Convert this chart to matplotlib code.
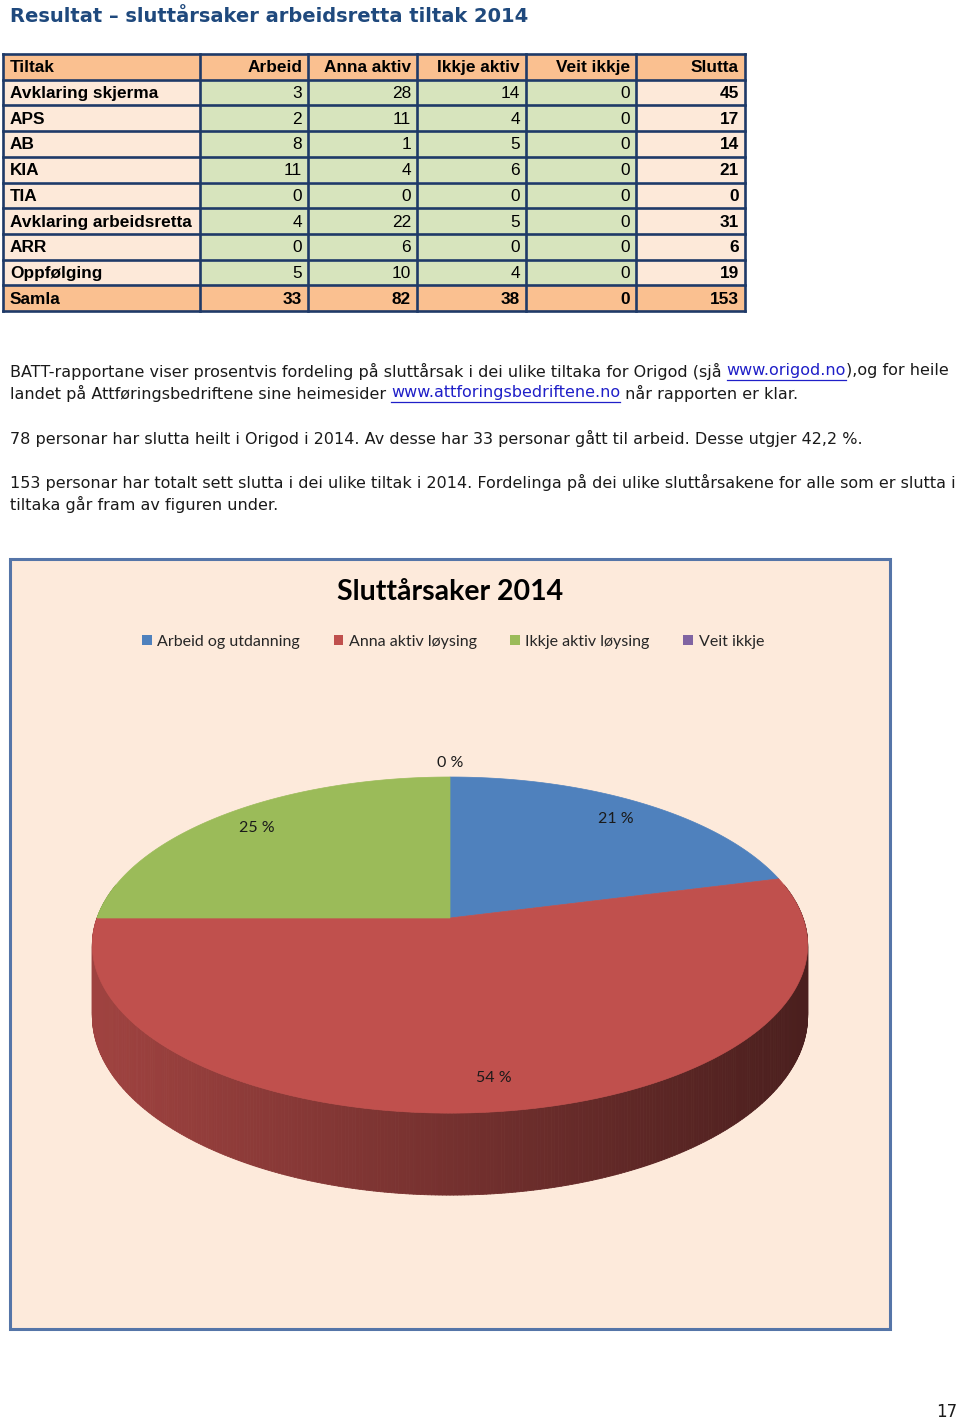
import numpy as np
import matplotlib as mpl
mpl.use('Agg')
import matplotlib.pyplot as plt
from matplotlib.patches import Rectangle, Polygon, Patch
from matplotlib.collections import PolyCollection

# ---- data ----
col_heads = ['Tiltak', 'Arbeid', 'Anna aktiv', 'Ikkje aktiv', 'Veit ikkje', 'Slutta']
tiltak = ['Avklaring skjerma', 'APS', 'AB', 'KIA', 'TIA',
          'Avklaring arbeidsretta', 'ARR', 'Oppfølging']
arbeid = [3, 2, 8, 11, 0, 4, 0, 5]
anna_aktiv = [28, 11, 1, 4, 0, 22, 6, 10]
ikkje_aktiv = [14, 4, 5, 6, 0, 5, 0, 4]
veit_ikkje = [0, 0, 0, 0, 0, 0, 0, 0]
slutta = [45, 17, 14, 21, 0, 31, 6, 19]
samla = [33, 82, 38, 0, 153]

pie_names = ['Arbeid og utdanning', 'Anna aktiv løysing', 'Ikkje aktiv løysing', 'Veit ikkje']
pie_pct = [21, 54, 25, 0]
pie_colors = ['#4F81BD', '#C0504D', '#9BBB59', '#8064A2']

W, H = 960, 1422
fig = plt.figure(figsize=(W / 100, H / 100), dpi=100)
ax = fig.add_axes([0, 0, 1, 1])
ax.set_xlim(0, W)
ax.set_ylim(H, 0)
ax.axis('off')
renderer = fig.canvas.get_renderer()

body_font = 'DejaVu Sans'
table_font = 'Liberation Sans'
ink = '#1a1a1a'
link_col = '#1f1fc8'


def text_width(s, **kw):
    t = ax.text(0, 0, '|' + s + '|', **kw)
    t2 = ax.text(0, 0, '||', **kw)
    w = t.get_window_extent(renderer).width - t2.get_window_extent(renderer).width
    t.remove()
    t2.remove()
    return w


line1 = [('BATT-rapportane viser prosentvis fordeling på sluttårsak i dei ulike tiltaka for Origod (sjå ', False),
         ('www.origod.no', True), ('),og for heile', False)]
# body size chosen so the first line spans the text column like the page does
w10 = text_width(''.join(s for s, _ in line1), fontsize=10, family=body_font)
body_size = 10 * 938 / w10


def draw_runs(x, y, parts, size=body_size):
    kw = dict(fontsize=size, family=body_font)
    for s, is_link in parts:
        col = link_col if is_link else ink
        ax.text(x, y, s, color=col, va='center', ha='left', **kw)
        w = text_width(s, **kw)
        if is_link:
            ax.plot([x, x + w], [y + 9, y + 9], color=col, lw=0.9)
        x += w


# ---- heading ----
ax.text(10, 17, 'Resultat \u2013 sluttårsaker arbeidsretta tiltak 2014',
        fontsize=14, fontweight='bold', family='DejaVu Sans',
        color='#1f497d', va='center', ha='left')

# ---- table ----
col_x = [3, 200, 308, 417, 526, 636, 745]
top, row_h = 54, (311 - 54) / 10
peach, orange, green = '#FDE9D9', '#FAC090', '#D7E4BD'
border = '#1f3a68'

rows = [col_heads]
for i, name in enumerate(tiltak):
    rows.append([name, arbeid[i], anna_aktiv[i], ikkje_aktiv[i], veit_ikkje[i], slutta[i]])
rows.append(['Samla'] + samla)

for r, row in enumerate(rows):
    y0 = top + r * row_h
    edge_row = r == 0 or r == len(rows) - 1
    for c, val in enumerate(row):
        if edge_row:
            fc = orange
        elif c == 0 or c == len(row) - 1:
            fc = peach
        else:
            fc = green
        ax.add_patch(Rectangle((col_x[c], y0), col_x[c + 1] - col_x[c], row_h,
                               facecolor=fc, edgecolor='none', zorder=1))
        bold = edge_row or c == 0 or c == len(row) - 1
        if c == 0:
            ax.text(col_x[c] + 7, y0 + row_h / 2 + 1, str(val), ha='left', va='center',
                    fontsize=12.4, family=table_font,
                    fontweight='bold', color='black', zorder=3)
        else:
            ax.text(col_x[c + 1] - 6, y0 + row_h / 2 + 1, str(val), ha='right', va='center',
                    fontsize=12.4, family=table_font,
                    fontweight='bold' if bold else 'normal', color='black', zorder=3)

for r in range(len(rows) + 1):
    yy = top + r * row_h
    ax.plot([col_x[0], col_x[-1]], [yy, yy], color=border, lw=1.9, zorder=2,
            solid_capstyle='projecting')
for xx in col_x:
    ax.plot([xx, xx], [top, top + len(rows) * row_h], color=border, lw=1.9, zorder=2,
            solid_capstyle='projecting')

# ---- paragraphs ----
draw_runs(10, 371, line1)
draw_runs(10, 393, [('landet på Attføringsbedriftene sine heimesider ', False),
                    ('www.attforingsbedriftene.no', True), (' når rapporten er klar.', False)])
draw_runs(10, 438, [('78 personar har slutta heilt i Origod i 2014. Av desse har 33 personar gått til arbeid. Desse utgjer 42,2 %.', False)])
draw_runs(10, 482, [('153 personar har totalt sett slutta i dei ulike tiltak i 2014. Fordelinga på dei ulike sluttårsakene for alle som er slutta i', False)])
draw_runs(10, 504, [('tiltaka går fram av figuren under.', False)])

# ---- chart box ----
ax.add_patch(Rectangle((10, 559), 880, 770, facecolor='#FDEADB',
                       edgecolor='#5575a8', lw=2.2, zorder=1))
ax.text(450, 592, 'Sluttårsaker 2014', fontsize=20.5, fontweight='bold',
        family='Lato', color='black', ha='center', va='center', zorder=3)

handles = [Patch(facecolor=c, edgecolor='none') for c in pie_colors]
fig.legend(handles, pie_names, loc='center', bbox_to_anchor=(453 / W, 1 - 642 / H),
           ncol=4, frameon=False, prop={'family': 'Lato', 'size': 11.5},
           handlelength=0.6, handleheight=0.6, handletextpad=0.35,
           columnspacing=2.1, labelcolor='#262626')

# ---- 3D pie (perspective view of a tilted disc) ----
cx, apex_y = 450, 918      # where the slices meet
A, B, k = 353, 163.7, 0.161
depth = 68.8
fracs = np.array(pie_pct, dtype=float) / sum(pie_pct)
starts = 90 - 360 * np.concatenate([[0], np.cumsum(fracs)[:-1]])
ends = starts - 360 * fracs


def proj(t, r=1.0, drop=0.0):
    t = np.radians(t)
    u, v = r * np.cos(t), r * np.sin(t)
    den = 1 + k * v
    return cx + A * u / den, apex_y - B * v / den + drop / den


def slice_at(t):
    for i in range(len(fracs)):
        if fracs[i] == 0:
            continue
        a = (starts[i] - t) % 360
        if a < 360 * fracs[i]:
            return i
    return 0


def shade(hexcol, f):
    rgb = np.array(mpl.colors.to_rgb(hexcol))
    return tuple(rgb * f)


# side wall
quads, qcols = [], []
step = 0.5
for t in np.arange(168, 372, step):
    x1, y1 = proj(t)
    x2, y2 = proj(t + step)
    _, b1 = proj(t, drop=depth)
    _, b2 = proj(t + step, drop=depth)
    quads.append([(x1, y1), (x2, y2), (x2, b2), (x1, b1)])
    xm = (x1 + x2) / 2
    u = np.clip((xm - (cx - A)) / (2 * A), 0, 1)
    qcols.append(shade(pie_colors[slice_at(t + step / 2)], 0.83 - 0.44 * u))
ax.add_collection(PolyCollection(quads, facecolors=qcols, edgecolors=qcols,
                                 linewidths=0.6, zorder=4))

# top face
for i in range(len(fracs)):
    if fracs[i] == 0:
        continue
    ts = np.linspace(starts[i], ends[i], 200)
    xs, ys = proj(ts)
    pts = np.column_stack([np.r_[cx, xs], np.r_[apex_y, ys]])
    ax.add_patch(Polygon(pts, closed=True, facecolor=pie_colors[i],
                         edgecolor=pie_colors[i], lw=0.5, zorder=5))

# percentage labels
for i in range(len(fracs)):
    mid = (starts[i] + ends[i]) / 2
    r = 1.12 if fracs[i] == 0 else 0.85
    lx, ly = proj(mid, r=r)
    ax.text(lx, ly, f'{pie_pct[i]} %', fontsize=11.5, family='Lato', color='#1a1a1a',
            ha='center', va='center', zorder=6)

# ---- page number ----
ax.text(947, 1412, '17', fontsize=12, family=body_font, color=ink,
        ha='center', va='center')

fig.savefig('out.png', dpi=100)
